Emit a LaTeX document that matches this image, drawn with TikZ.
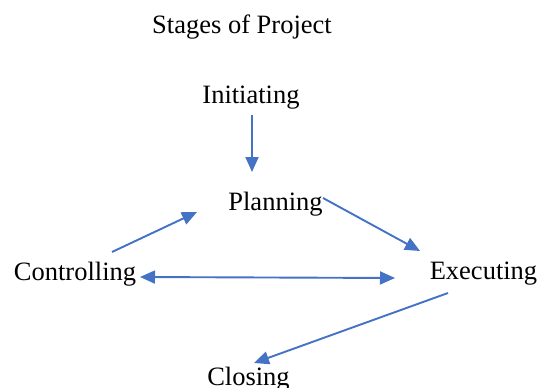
\documentclass[tikz,border=0pt]{standalone}
\usepackage{fontspec}
\setmainfont{Liberation Serif}
\usetikzlibrary{arrows.meta}
\definecolor{flowblue}{HTML}{4472C4}
\begin{document}
\begin{tikzpicture}[x=1pt,y=-1pt,
        stage/.style={inner sep=0pt,anchor=base,font=\fontsize{26.5}{30}\selectfont},
        flow/.style={draw=flowblue,line width=1.9pt,-{Triangle[length=15pt,width=13pt]}}]
        \useasboundingbox (0,0) rectangle (538,388);
        \node[stage] (title) at (242,33) {Stages of Project};
        \node[stage] (init) at (251,103) {Initiating};
        \node[stage] (plan) at (275.5,210) {Planning};
        \node[stage] (ctrl) at (75,280) {Controlling};
        \node[stage] (exec) at (483.5,279) {Executing};
        \node[stage] (close) at (248.5,385.5) {Closing};
        \draw[flow] ([shift={(1,12)}]init.base) -- ([shift={(-23.5,-38)}]plan.base);
        \draw[flow] ([shift={(47.5,-12)}]plan.base) -- ([shift={(-63.5,-28)}]exec.base);
        \draw[flow] ([shift={(37,-28)}]ctrl.base) -- ([shift={(-78.5,2)}]plan.base);
        \draw[flow,{Triangle[length=15pt,width=13pt]}-{Triangle[length=15pt,width=13pt]}] ([shift={(65,-3)}]ctrl.base) -- ([shift={(-88.5,-1)}]exec.base);
        \draw[flow] ([shift={(-35.5,14)}]exec.base) -- ([shift={(5.5,-22.5)}]close.base);
    \end{tikzpicture}
\end{document}
